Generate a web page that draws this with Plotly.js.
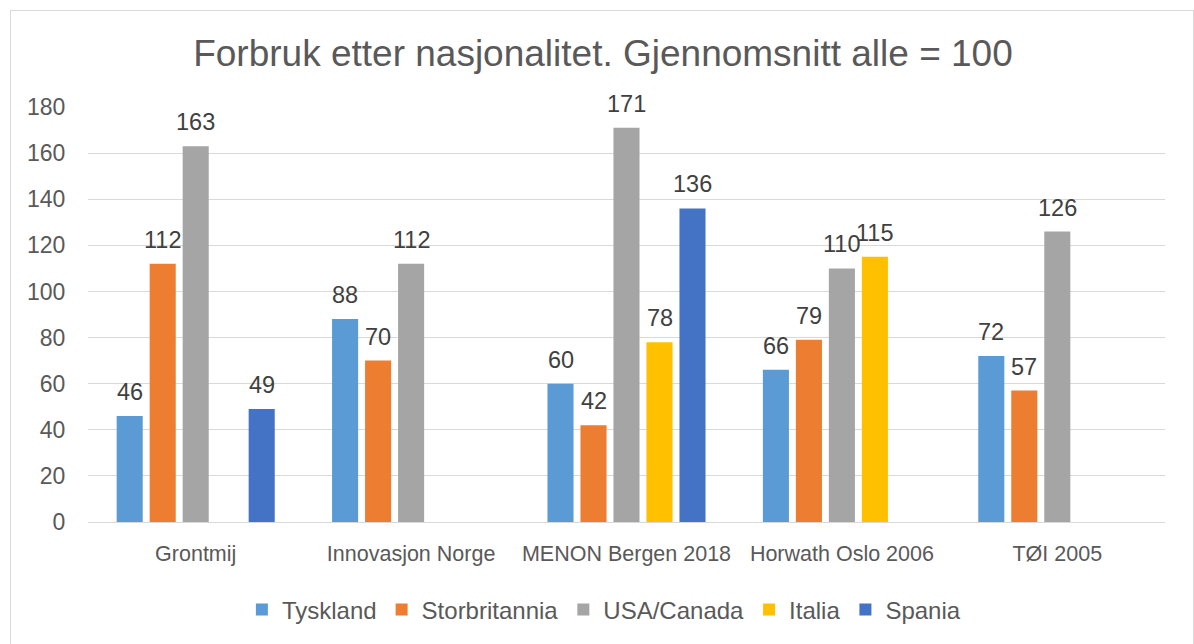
<!DOCTYPE html>
<html><head><meta charset="utf-8">
<script src="https://cdn.plot.ly/plotly-3.0.1.min.js"></script>
<style>
body{margin:0;background:#fff}
#frame{position:absolute;left:10px;top:10px;width:1184px;height:640px;border:1px solid #d9d9d9;box-sizing:border-box;pointer-events:none}
</style>
</head><body>
<div id="chart" style="width:1194px;height:644px"></div>
<div id="frame"></div>
<script>
const categories = ['Grontmij', 'Innovasjon Norge', 'MENON Bergen 2018', 'Horwath Oslo 2006', 'TØI 2005'];
const seriesNames = ['Tyskland', 'Storbritannia', 'USA/Canada', 'Italia', 'Spania'];
const tyskland      = [46, 88, 60, 66, 72];
const storbritannia = [112, 70, 42, 79, 57];
const usaCanada     = [163, 112, 171, 110, 126];
const italia        = [null, null, 78, 115, null];
const spania        = [49, null, 136, null, null];
const yTickVals = [0, 20, 40, 60, 80, 100, 120, 140, 160, 180];

const seriesValues = [tyskland, storbritannia, usaCanada, italia, spania];
const colors = ['#5B9BD5', '#ED7D31', '#A5A5A5', '#FFC000', '#4472C4'];
const bargap = 0.234;
const bargroupgap = 0.21;
const sans = '"Liberation Sans", Arial, sans-serif';

const traces = seriesValues.map((vals, i) => ({
  type: 'bar',
  name: seriesNames[i],
  x: categories,
  y: vals,
  marker: {color: colors[i]},
  hoverinfo: 'none'
}));

const annotations = [];
const slot = (1 - bargap) / seriesValues.length;
seriesValues.forEach((vals, s) => {
  vals.forEach((v, c) => {
    if (v === null) return;
    annotations.push({
      x: c + (s - (seriesValues.length - 1) / 2) * slot,
      y: v,
      xref: 'x', yref: 'y',
      text: String(v),
      showarrow: false,
      yanchor: 'middle',
      yshift: 24,
      font: {family: sans, size: 23.5, color: '#404040'}
    });
  });
});

const layout = {
  width: 1194, height: 644,
  margin: {l: 88, r: 29, t: 107, b: 122},
  paper_bgcolor: '#ffffff',
  plot_bgcolor: '#ffffff',
  barmode: 'group',
  bargap: bargap,
  bargroupgap: bargroupgap,
  title: {
    text: 'Forbruk etter nasjonalitet. Gjennomsnitt alle = 100',
    font: {family: sans, size: 37, color: '#595959'},
    x: 0.505, xref: 'container', xanchor: 'center',
    y: 0.917, yref: 'container', yanchor: 'middle'
  },
  xaxis: {
    type: 'category',
    showgrid: false,
    showline: true, linecolor: '#d9d9d9', linewidth: 1,
    ticks: 'outside', ticklen: 12, tickcolor: 'rgba(0,0,0,0)',
    tickfont: {family: sans, size: 21.5, color: '#595959'},
    zeroline: false
  },
  yaxis: {
    range: [0, 180],
    tickvals: yTickVals,
    showgrid: true, gridcolor: '#d9d9d9', gridwidth: 1,
    zeroline: false, showline: false,
    ticks: 'outside', ticklen: 17, tickcolor: 'rgba(0,0,0,0)',
    tickfont: {family: sans, size: 23, color: '#595959'}
  },
  showlegend: true,
  legend: {
    orientation: 'h',
    x: 0.479, xanchor: 'center',
    y: -0.212, yanchor: 'middle',
    font: {family: sans, size: 24, color: '#595959'},
    traceorder: 'normal'
  },
  annotations: annotations
};

Plotly.newPlot('chart', traces, layout, {displayModeBar: false, staticPlot: true});
</script>
</body></html>
